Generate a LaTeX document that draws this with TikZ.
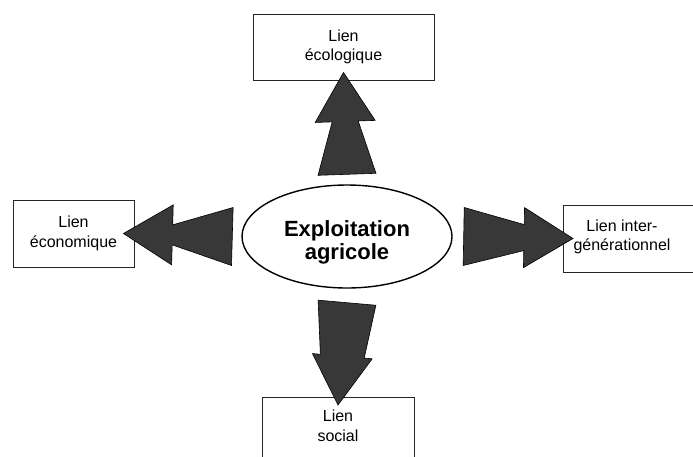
\documentclass[tikz,border=0pt]{standalone}
\usepackage{fontspec}
\setmainfont{Liberation Sans}
\usetikzlibrary{calc,shapes.geometric}

\tikzset{
  box/.style={draw=black!85, line width=0.9pt, rectangle, align=center, inner sep=0pt},
  txt/.style={align=center, font=\fontsize{16}{19.5}\selectfont},
  farm/.style={draw, ellipse, line width=1.4pt, inner sep=0pt, minimum width=210pt, minimum height=103pt},
  bigtxt/.style={align=center, font=\fontsize{22}{23.5}\selectfont\bfseries},
  arrowfill/.style={fill=black!78, draw=black, line width=0.6pt, line join=miter}
}
% tail, tip, notch half width
\newcommand{\dblarrow}[3]{%
  \path ($(#2)!49pt!(#1)$) coordinate (hb);
  \filldraw[arrowfill] ($(#1)!29pt!90:(#2)$) -- ($(hb)!#3!90:(#2)$) -- ($(hb)!30pt!90:(#2)$) -- (#2)
    -- ($(hb)!30pt!-90:(#2)$) -- ($(hb)!#3!-90:(#2)$) -- ($(#1)!29pt!-90:(#2)$) -- cycle;}

\begin{document}
\begin{tikzpicture}[x=1pt,y=-1pt]
    \useasboundingbox (0,0) rectangle (693,456);
    % centre
    \node[farm] (farm) at (347,236.5) {};
    \node[bigtxt] (farmtxt) at ([yshift=-6pt]farm.center) {Exploitation\\agricole};
    % boxes
    \node[box, txt, minimum width=181pt, minimum height=66pt] (eco) at (343.5,47) {Lien\\écologique};
    \node[box, txt, minimum width=121pt, minimum height=67pt] (econ) at (73.5,233.5) {Lien\\économique};
    \node[box, minimum width=140pt, minimum height=67pt, anchor=west] (gen) at (563,238.5) {};
    \node[txt] (gentxt) at (622,237) {Lien inter-\\générationnel};
    \node[box, minimum width=152pt, minimum height=70pt, anchor=north] (soc) at (338,397) {};
    \node[txt] (soctxt) at (338,426) {Lien\\social};
    % arrows
    \coordinate (t1) at ([yshift=10pt]farm.north); \coordinate (h1) at ([yshift=8pt]eco.south);
    \coordinate (t2) at ([yshift=-14pt]farm.south); \coordinate (h2) at ([yshift=-8pt]soc.north);
    \coordinate (t3) at ([xshift=-9pt]farm.west); \coordinate (h3) at ([xshift=-11pt]econ.east);
    \coordinate (t4) at ([xshift=11pt]farm.east); \coordinate (h4) at ([xshift=10pt]gen.west);
    \dblarrow{t1}{h1}{13pt}
    \dblarrow{t2}{h2}{22pt}
    \dblarrow{t3}{h3}{10pt}
    \dblarrow{t4}{h4}{13pt}
\end{tikzpicture}
\end{document}
